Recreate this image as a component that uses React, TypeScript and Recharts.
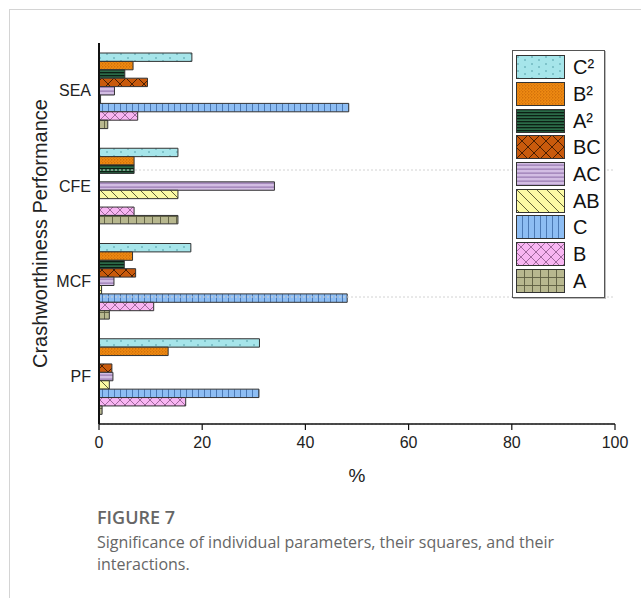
import {
  BarChart,
  Bar,
  XAxis,
  YAxis,
  Legend,
  ReferenceLine,
  ReferenceArea,
} from 'recharts'

// performance indicators, top to bottom
const CATEGORIES = ['SEA', 'CFE', 'MCF', 'PF']

// contribution of each model term (%), same order as CATEGORIES
const C2 = [18.0, 15.3, 17.8, 31.1]
const B2 = [6.6, 6.8, 6.5, 13.4]
const A2 = [5.0, 6.8, 4.9, 0]
const BC = [9.4, 0, 7.1, 2.5]
const AC = [3.0, 34.0, 2.9, 2.7]
const AB = [0.3, 15.3, 0.5, 2.0]
const C = [48.4, 0, 48.1, 31.0]
const B = [7.5, 6.8, 10.6, 16.8]
const A = [1.7, 15.3, 2.0, 0.6]

const X_TICKS = [0, 20, 40, 60, 80, 100]

const SERIES = [
  { key: 'c2', name: 'C²', values: C2, pattern: 'pat-c2' },
  { key: 'b2', name: 'B²', values: B2, pattern: 'pat-b2' },
  { key: 'a2', name: 'A²', values: A2, pattern: 'pat-a2' },
  { key: 'bc', name: 'BC', values: BC, pattern: 'pat-bc' },
  { key: 'ac', name: 'AC', values: AC, pattern: 'pat-ac' },
  { key: 'ab', name: 'AB', values: AB, pattern: 'pat-ab' },
  { key: 'c', name: 'C', values: C, pattern: 'pat-c' },
  { key: 'b', name: 'B', values: B, pattern: 'pat-b' },
  { key: 'a', name: 'A', values: A, pattern: 'pat-a' },
]

const data = CATEGORIES.map((name, i) => {
  const row: Record<string, string | number> = { name }
  SERIES.forEach((s) => {
    row[s.key] = s.values[i]
  })
  return row
})

const AXIS_FONT = 'Arial, "Liberation Sans", sans-serif'

const Patterns = () => (
  <defs>
    <pattern id="pat-c2" width="14" height="7" patternUnits="userSpaceOnUse">
      <rect width="14" height="7" fill="#a6e5ea" />
      <path d="M1 2h2M8 5h2" stroke="#4d98a4" strokeWidth="0.9" />
    </pattern>
    <pattern id="pat-b2" width="3" height="3" patternUnits="userSpaceOnUse">
      <rect width="3" height="3" fill="#ef8a12" />
      <circle cx="0.8" cy="0.8" r="0.6" fill="#b35500" />
      <circle cx="2.3" cy="2.3" r="0.5" fill="#c86a08" />
    </pattern>
    <pattern id="pat-a2" width="4" height="3" patternUnits="userSpaceOnUse">
      <rect width="4" height="3" fill="#2b6b48" />
      <rect width="4" height="1.3" fill="#0c1f14" />
    </pattern>
    <pattern id="pat-bc" width="12" height="12" patternUnits="userSpaceOnUse">
      <rect width="12" height="12" fill="#c95a0c" />
      <path d="M0 0L12 12M12 0L0 12" stroke="#2a1000" strokeWidth="0.8" />
    </pattern>
    <pattern id="pat-ac" width="4" height="4" patternUnits="userSpaceOnUse">
      <rect width="4" height="4" fill="#d3bde3" />
      <rect y="2.6" width="4" height="1" fill="#8c6ba8" />
    </pattern>
    <pattern id="pat-ab" width="10" height="10" patternUnits="userSpaceOnUse">
      <rect width="10" height="10" fill="#fbfaa4" />
      <path d="M0 0L10 10M-5 5L5 15M5 -5L15 5" stroke="#3a3a20" strokeWidth="0.8" />
    </pattern>
    <pattern id="pat-c" width="6" height="6" patternUnits="userSpaceOnUse">
      <rect width="6" height="6" fill="#8dbdf3" />
      <rect x="0" width="1" height="6" fill="#4b79b4" />
    </pattern>
    <pattern id="pat-b" width="10" height="10" patternUnits="userSpaceOnUse">
      <rect width="10" height="10" fill="#f8b5f2" />
      <path d="M0 0L10 10M10 0L0 10" stroke="#7a4878" strokeWidth="0.7" />
    </pattern>
    <pattern id="pat-a" width="8" height="8" patternUnits="userSpaceOnUse">
      <rect width="8" height="8" fill="#b8b88f" />
      <path d="M0.5 0V8M0 0.5H8" stroke="#5c5c40" strokeWidth="0.9" />
    </pattern>
  </defs>
)

const LegendBox = () => (
  <div
    style={{
      background: '#fff',
      border: '1px solid #555',
      boxShadow: '1px 1px 0 #bbb',
      padding: '3px 0 3px 3px',
      boxSizing: 'border-box',
    }}
  >
    {SERIES.map((s) => (
      <div key={s.key} style={{ display: 'flex', alignItems: 'center', height: 26.7 }}>
        <svg width={50} height={24}>
          <rect
            x={0.5}
            y={0.5}
            width={48}
            height={23}
            fill={`url(#${s.pattern})`}
            stroke="#333"
            strokeWidth={1}
          />
        </svg>
        <span
          style={{
            marginLeft: 7,
            fontFamily: AXIS_FONT,
            fontSize: 20,
            color: '#111',
            lineHeight: '24px',
          }}
        >
          {s.name}
        </span>
      </div>
    ))}
  </div>
)

export default function App() {
  return (
    <div style={{ position: 'absolute', left: 0, top: 0, width: 641, height: 598, background: '#fff' }}>
      <div
        style={{
          position: 'absolute',
          left: 9,
          top: 9,
          width: 640,
          height: 600,
          borderLeft: '1px solid #d4d4d4',
          borderTop: '1px solid #d4d4d4',
        }}
      />
      <div style={{ position: 'absolute', left: 0, top: 0 }}>
        <BarChart
          width={641}
          height={490}
          data={data}
          layout="vertical"
          margin={{ top: 43, right: 26, left: 30, bottom: 8 }}
          barGap={0}
        >
          <Patterns />
          <XAxis
            type="number"
            domain={[0, 100]}
            ticks={X_TICKS}
            height={58}
            tickSize={6}
            tickMargin={7}
            stroke="#111"
            axisLine={{ stroke: '#111', strokeWidth: 1.5 }}
            tickLine={{ stroke: '#111', strokeWidth: 1.2 }}
            tick={{ fontSize: 16, fill: '#222', fontFamily: AXIS_FONT }}
            label={{
              value: '%',
              position: 'insideBottom',
              offset: 0,
              style: { fontSize: 19, fill: '#222', fontFamily: AXIS_FONT },
            }}
          />
          <YAxis
            type="category"
            dataKey="name"
            width={69}
            tickLine={false}
            axisLine={{ stroke: '#111', strokeWidth: 2 }}
            tick={{ fontSize: 16, fill: '#222', fontFamily: AXIS_FONT }}
            label={{
              value: 'Crashworthiness Performance',
              angle: -90,
              position: 'insideLeft',
              offset: 10,
              style: { textAnchor: 'middle', fontSize: 20, fill: '#222', fontFamily: AXIS_FONT },
            }}
          />
          {/* numeric helper axis for the separators between indicator bands */}
          <YAxis yAxisId="grid" type="number" domain={[0, 4]} hide />
          {[1, 2, 3].map((y) => (
            <ReferenceLine
              key={y}
              yAxisId="grid"
              y={y}
              stroke="#d2d2d2"
              strokeDasharray="2 2"
            />
          ))}
          <ReferenceArea
            yAxisId="grid"
            x1={0}
            x2={100}
            y1={0}
            y2={4}
            fill="none"
            stroke="#111"
            strokeWidth={1.2}
          />
          {SERIES.map((s) => (
            <Bar
              key={s.key}
              dataKey={s.key}
              name={s.name}
              barSize={8.4}
              fill={`url(#${s.pattern})`}
              stroke="#333"
              strokeWidth={1}
              isAnimationActive={false}
            />
          ))}
          <Legend
            layout="vertical"
            align="center"
            verticalAlign="middle"
            wrapperStyle={{ left: 512, top: 50, width: 93 }}
            content={<LegendBox />}
          />
        </BarChart>
      </div>
      <div
        style={{
          position: 'absolute',
          left: 97,
          top: 505,
          fontFamily: '"Open Sans", "Noto Sans", sans-serif',
          color: '#666',
        }}
      >
        <div style={{ fontSize: 18, fontWeight: 600, lineHeight: '24px' }}>FIGURE 7</div>
        <div style={{ fontSize: 16, lineHeight: '22px', marginTop: 2, width: 480 }}>
          Significance of individual parameters, their squares, and their interactions.
        </div>
      </div>
    </div>
  )
}
